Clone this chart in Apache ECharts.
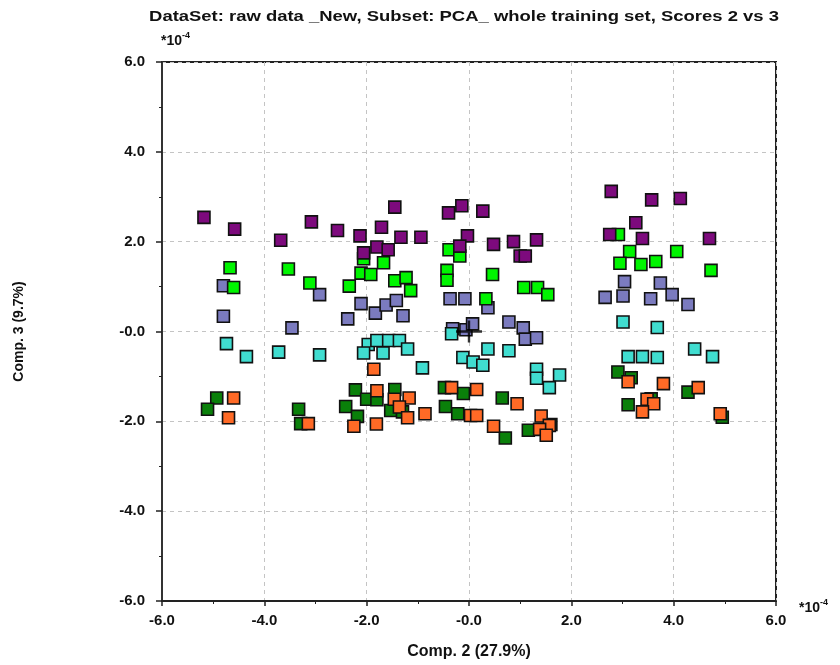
<!DOCTYPE html>
<html>
<head>
<meta charset="utf-8">
<script src="https://cdn.jsdelivr.net/npm/echarts@6/dist/echarts.min.js"></script>
<style>
  html, body { margin: 0; padding: 0; background: #fff; }
  #chart { width: 840px; height: 665px; }
</style>
</head>
<body>
<div id="chart"></div>
<script>
// PCA scores, component 2 (x) vs component 3 (y), in units of 1e-4
const xTickLabels = ['-6.0', '-4.0', '-2.0', '-0.0', '2.0', '4.0', '6.0'];
const yTickLabels = ['-6.0', '-4.0', '-2.0', '-0.0', '2.0', '4.0', '6.0'];

const groupPurple = [
  [-5.18, 2.54], [-4.58, 2.28], [-3.08, 2.44], [-3.68, 2.03], [-2.57, 2.25],
  [-1.45, 2.77], [-1.71, 2.32], [-2.13, 2.13], [-1.33, 2.10], [-0.94, 2.10],
  [-0.40, 2.64], [-0.14, 2.80], [0.27, 2.68], [-0.03, 2.13], [-2.06, 1.75],
  [-1.80, 1.88], [-1.58, 1.82], [-0.18, 1.90], [0.48, 1.94], [0.87, 2.00],
  [1.32, 2.04], [1.00, 1.68], [1.10, 1.68], [2.78, 3.12], [3.57, 2.93],
  [4.13, 2.96], [3.26, 2.42], [2.75, 2.16], [3.39, 2.07], [4.70, 2.07]
];
const groupLime = [
  [-4.67, 1.42], [-3.53, 1.39], [-4.60, 0.98], [-3.11, 1.08], [-2.06, 1.62],
  [-1.67, 1.53], [-2.11, 1.30], [-1.92, 1.27], [-2.34, 1.01], [-1.45, 1.13],
  [-1.23, 1.20], [-1.14, 0.91], [-0.39, 1.82], [-0.18, 1.68], [-0.43, 1.36],
  [-0.43, 1.14], [0.46, 1.27], [1.07, 0.98], [1.34, 0.98], [1.54, 0.82],
  [0.33, 0.73], [2.92, 2.16], [3.14, 1.78], [4.06, 1.78], [2.95, 1.52],
  [3.36, 1.49], [3.65, 1.56], [4.73, 1.36]
];
const groupSlate = [
  [-4.80, 1.02], [-4.80, 0.34], [-3.46, 0.08], [-2.92, 0.82], [-2.11, 0.62],
  [-2.37, 0.28], [-1.83, 0.41], [-1.62, 0.59], [-1.42, 0.69], [-1.29, 0.35],
  [-0.37, 0.73], [-0.08, 0.73], [-0.32, 0.06], [-0.06, 0.04], [0.07, 0.17],
  [0.37, 0.53], [0.78, 0.21], [1.06, 0.08], [1.10, -0.17], [1.32, -0.14],
  [3.04, 1.11], [3.74, 1.08], [2.66, 0.76], [3.01, 0.79], [3.55, 0.73],
  [3.97, 0.82], [4.28, 0.60]
];
const groupTurquoise = [
  [-4.74, -0.27], [-4.35, -0.56], [-3.72, -0.46], [-2.92, -0.52], [-1.97, -0.29],
  [-1.80, -0.20], [-1.57, -0.20], [-1.36, -0.20], [-1.20, -0.39], [-2.06, -0.48],
  [-1.68, -0.48], [-0.91, -0.81], [-0.34, -0.05], [-0.12, -0.58], [0.08, -0.68],
  [0.37, -0.39], [0.78, -0.43], [0.27, -0.75], [1.32, -0.84], [1.32, -1.04],
  [1.77, -0.97], [1.57, -1.25], [3.01, 0.21], [3.68, 0.09], [3.11, -0.56],
  [3.39, -0.56], [3.68, -0.58], [4.41, -0.39], [4.76, -0.56]
];
const groupGreen = [
  [-4.93, -1.48], [-5.11, -1.73], [-3.33, -1.73], [-3.29, -2.05], [-2.22, -1.30],
  [-2.00, -1.51], [-1.80, -1.52], [-1.45, -1.29], [-2.41, -1.67], [-2.18, -1.89],
  [-1.53, -1.76], [-1.30, -1.79], [-0.48, -1.25], [-0.11, -1.38], [-0.46, -1.67],
  [-0.22, -1.83], [0.65, -1.48], [0.71, -2.37], [1.16, -2.20], [1.60, -2.07],
  [2.91, -0.90], [3.17, -1.03], [4.28, -1.35], [3.11, -1.63], [3.56, -1.50],
  [4.95, -1.91]
];
const groupOrange = [
  [-4.60, -1.48], [-4.70, -1.92], [-3.14, -2.05], [-1.86, -0.84], [-1.80, -1.32],
  [-1.46, -1.51], [-1.17, -1.48], [-1.36, -1.68], [-1.20, -1.92], [-0.86, -1.83],
  [-1.81, -2.06], [-2.25, -2.11], [-0.34, -1.25], [0.15, -1.29], [0.03, -1.87],
  [0.15, -1.87], [0.94, -1.61], [0.48, -2.11], [1.41, -1.88], [1.57, -2.09],
  [1.38, -2.18], [1.51, -2.31], [3.11, -1.12], [3.80, -1.16], [4.48, -1.25],
  [3.48, -1.51], [3.61, -1.61], [3.39, -1.79], [4.91, -1.83]
];
const centroid = [[0, 0]];

const FONT = '"Liberation Sans", Arial, sans-serif';

function squares(name, data, color) {
  return {
    name: name,
    type: 'scatter',
    data: data,
    symbol: 'rect',
    symbolSize: 12,
    itemStyle: { color: color, borderColor: '#111', borderWidth: 1.6, opacity: 1 },
    emphasis: { disabled: true },
    z: 3
  };
}

function exponentLabel(x, y) {
  return {
    type: 'text', x: x, y: y,
    style: {
      text: '{b|*10}{s|-4}',
      rich: {
        b: { fontFamily: FONT, fontWeight: 'bold', fontSize: 14, fill: '#111', verticalAlign: 'bottom' },
        s: { fontFamily: FONT, fontWeight: 'bold', fontSize: 9, fill: '#111', verticalAlign: 'top', padding: [0, 0, 8, 0] }
      }
    }
  };
}

const chart = echarts.init(document.getElementById('chart'), null, { renderer: 'canvas' });

const gridLine = { show: true, lineStyle: { color: '#c4c4c4', type: [4, 4], width: 1 } };

chart.setOption({
  animation: false,
  backgroundColor: '#fff',
  graphic: [
    {
      // chart heading, drawn slightly widened
      type: 'text', x: 464, y: 9, scaleX: 1.23, scaleY: 1, originX: 0, originY: 0,
      style: {
        text: 'DataSet: raw data _New, Subset: PCA_ whole training set, Scores 2 vs 3',
        textAlign: 'center', textVerticalAlign: 'top',
        fontFamily: FONT, fontWeight: 'bold', fontSize: 15, fill: '#111'
      }
    },
    exponentLabel(161, 31),
    exponentLabel(799, 598)
  ],
  grid: {
    left: 162, right: 64, top: 62, bottom: 62,
    show: true, borderColor: '#222', borderWidth: 2, backgroundColor: 'transparent'
  },
  xAxis: {
    type: 'value', min: -6, max: 6, interval: 2,
    name: 'Comp. 2 (27.9%)', nameLocation: 'middle', nameGap: 43,
    nameTextStyle: { fontFamily: FONT, fontWeight: 'bold', fontSize: 16, color: '#111' },
    axisLine: { show: true, onZero: false, lineStyle: { color: '#222', width: 2 } },
    axisTick: { show: true, inside: false, length: 5, lineStyle: { color: '#222', width: 1.5 } },
    minorTick: { show: true, splitNumber: 2, length: 3, lineStyle: { color: '#222' } },
    axisLabel: {
      margin: 12, fontFamily: FONT, fontWeight: 'bold', fontSize: 15, color: '#111',
      formatter: (v, i) => xTickLabels[i]
    },
    splitLine: gridLine
  },
  yAxis: {
    type: 'value', min: -6, max: 6, interval: 2,
    name: 'Comp. 3 (9.7%)', nameLocation: 'middle', nameGap: 136, nameRotate: 90,
    nameTextStyle: { fontFamily: FONT, fontWeight: 'bold', fontSize: 14, color: '#111' },
    axisLine: { show: true, onZero: false, lineStyle: { color: '#333', width: 2 } },
    axisTick: { show: true, inside: false, length: 6, lineStyle: { color: '#222', width: 1.5 } },
    minorTick: { show: true, splitNumber: 2, length: 3, lineStyle: { color: '#222' } },
    axisLabel: {
      margin: 17, fontFamily: FONT, fontWeight: 'bold', fontSize: 15, color: '#111',
      formatter: (v, i) => yTickLabels[i]
    },
    splitLine: gridLine
  },
  series: [
    squares('slate', groupSlate, '#7b7bbf'),
    squares('lime', groupLime, '#00f500'),
    squares('purple', groupPurple, '#7d0a7d'),
    squares('turquoise', groupTurquoise, '#40ddd0'),
    squares('green', groupGreen, '#0a800a'),
    squares('orange', groupOrange, '#ff6a26'),
    {
      name: 'centre',
      type: 'scatter',
      data: centroid,
      symbol: 'path://M-1.2,-11 L1.2,-11 L1.2,-1.2 L13,-1.2 L13,1.2 L1.2,1.2 L1.2,11 L-1.2,11 L-1.2,1.2 L-13,1.2 L-13,-1.2 L-1.2,-1.2 Z',
      symbolSize: [26, 22],
      itemStyle: { color: '#000' },
      emphasis: { disabled: true },
      z: 5
    }
  ]
});
</script>
</body>
</html>
